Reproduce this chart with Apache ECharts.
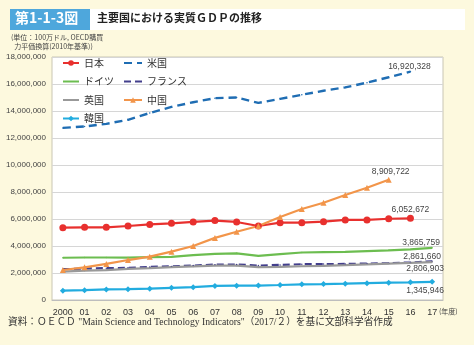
<!DOCTYPE html>
<html><head><meta charset="utf-8">
<script src="https://cdn.jsdelivr.net/npm/echarts@6/dist/echarts.min.js"></script>
<style>html,body{margin:0;padding:0;background:#fdf9de;}#c{width:474px;height:345px;}</style>
</head><body><div id="c"></div>
<script>
const categories = ['2000','01','02','03','04','05','06','07','08','09','10','11','12','13','14','15','16','17'];
const japan   = [5360000,5380000,5380000,5480000,5600000,5680000,5780000,5880000,5780000,5480000,5730000,5730000,5800000,5930000,5930000,6020000,6052672,null];
const usa     = [12750000,12850000,13050000,13350000,13850000,14300000,14650000,14950000,15000000,14600000,14900000,15200000,15500000,15750000,16100000,16500000,16920328,null];
const germany = [3130000,3150000,3150000,3140000,3180000,3200000,3320000,3420000,3460000,3270000,3400000,3520000,3540000,3560000,3620000,3680000,3750000,3865759];
const france  = [2280000,2330000,2360000,2380000,2450000,2490000,2550000,2620000,2630000,2550000,2600000,2650000,2660000,2670000,2700000,2730000,2780000,2861660];
const uk      = [2100000,2170000,2220000,2300000,2360000,2430000,2490000,2550000,2540000,2430000,2460000,2500000,2530000,2580000,2640000,2700000,2750000,2806903];
const china   = [2220000,2420000,2670000,2960000,3210000,3580000,4000000,4600000,5060000,5480000,6150000,6740000,7200000,7780000,8320000,8909722,null,null];
const korea   = [690000,730000,780000,800000,840000,900000,950000,1040000,1060000,1070000,1110000,1160000,1180000,1210000,1250000,1280000,1310000,1345946];
const yTicks = {min:0, max:18000000, interval:2000000};

const fmt = v => Math.round(v).toString().replace(/\B(?=(\d{3})+(?!\d))/g, ',');
function lastLabel(arr, pos, offset){
  let li = -1; arr.forEach((v,i)=>{ if(v!=null) li=i; });
  return arr.map((v,i)=> i===li ? {value:v, label:{show:true, position:pos, offset:offset||[0,0], formatter:p=>fmt(p.value), fontSize:8.5, color:'#444', fontFamily:'Liberation Sans, Arial'}} : v);
}
function mk(name, data, color, opts){
  return Object.assign({
    name, type:'line', data, connectNulls:false,
    lineStyle:{color, width:2.2, type:'solid'},
    itemStyle:{color},
    symbol:'circle', symbolSize:1.5, showSymbol:true, animation:false,
    emphasis:{disabled:true}
  }, opts||{});
}
const series = [
  mk('日本', lastLabel(japan,'top',[0,4]), '#e8302e', {symbol:'circle', symbolSize:7}),
  mk('米国', lastLabel(usa,'top',[-1,5]), '#1f6db3', {lineStyle:{color:'#1f6db3', width:2.4, type:[8,5]}}),
  mk('ドイツ', lastLabel(germany,'top',[-11,5]), '#6cbd50'),
  mk('フランス', lastLabel(france,'top',[-10,6]), '#433f8c', {lineStyle:{color:'#433f8c', width:2.2, type:[7,4]}}),
  mk('英国', lastLabel(uk,'bottom',[-7,-4]), '#999999'),
  mk('中国', lastLabel(china,'top',[2,4]), '#f2954a', {symbol:'triangle', symbolSize:6}),
  mk('韓国', lastLabel(korea,'bottom',[-7,-4]), '#22acdf', {symbol:'diamond', symbolSize:6})
];
const noMark = name => ({name, itemStyle:{color:'rgba(0,0,0,0)', borderWidth:0, opacity:0}});
const legendText = {fontSize:10, color:'#333', fontFamily:'Noto Sans CJK JP', lineHeight:10};
const chart = echarts.init(document.getElementById('c'));
chart.setOption({
  backgroundColor:'#fdf9de',
  animation:false,
  textStyle:{fontFamily:'Liberation Sans, Noto Sans CJK JP'},
  grid:{left:52, right:31, top:57, bottom:45, show:true, backgroundColor:'#ffffff', borderColor:'#c9c6b4', borderWidth:1},
  legend:[
    {orient:'vertical', left:57, top:53, itemWidth:16, itemHeight:7, itemGap:8.5, textStyle:legendText,
     data:['日本', noMark('ドイツ'), noMark('英国'), '韓国'], selectedMode:false},
    {orient:'vertical', left:118, top:53, itemWidth:18, itemHeight:7, itemGap:8.5, textStyle:legendText,
     data:[noMark('米国'), noMark('フランス'), '中国'], selectedMode:false}
  ],
  xAxis:{type:'category', data:categories, boundaryGap:true,
    axisLine:{show:true, lineStyle:{color:'#bdbdbd'}}, axisTick:{show:false},
    axisLabel:{fontSize:9, color:'#333', margin:8, interval:0}},
  yAxis:{type:'value', min:yTicks.min, max:yTicks.max, interval:yTicks.interval,
    axisLine:{show:false}, axisTick:{show:false},
    axisLabel:{fontSize:8, color:'#444', margin:6, formatter:v=>fmt(v)},
    splitLine:{lineStyle:{color:'#d6d6d6', width:1}}},
  series,
  graphic:[
    {type:'rect', shape:{x:10, y:9, width:80, height:21}, style:{fill:'#4ea7dc'}},
    {type:'rect', shape:{x:90, y:9, width:375, height:21}, style:{fill:'#ffffff'}},
    {type:'text', left:15, top:11, style:{text:'第1-1-3図', fill:'#ffffff', font:'bold 14px "Noto Sans CJK JP"'}},
    {type:'text', left:97, top:12, style:{text:'主要国における実質ＧＤＰの推移', fill:'#222', font:'bold 11px "Noto Sans CJK JP"'}},
    {type:'text', left:11, top:33, style:{text:'(単位：100万ドル, OECD購買\n  力平価換算(2010年基準))', fill:'#444', font:'7px "Noto Sans CJK JP"', lineHeight:9}},
    {type:'text', left:439, top:308, style:{text:'(年度)', fill:'#444', font:'7px "Noto Sans CJK JP"'}},
    {type:'text', left:8, top:318, style:{text:'資料：ＯＥＣＤ "Main Science and Technology Indicators"（2017/２）を基に文部科学省作成', fill:'#333', font:'9.7px "Liberation Serif", "Noto Sans CJK JP"'}}
  ]
});
</script></body></html>
